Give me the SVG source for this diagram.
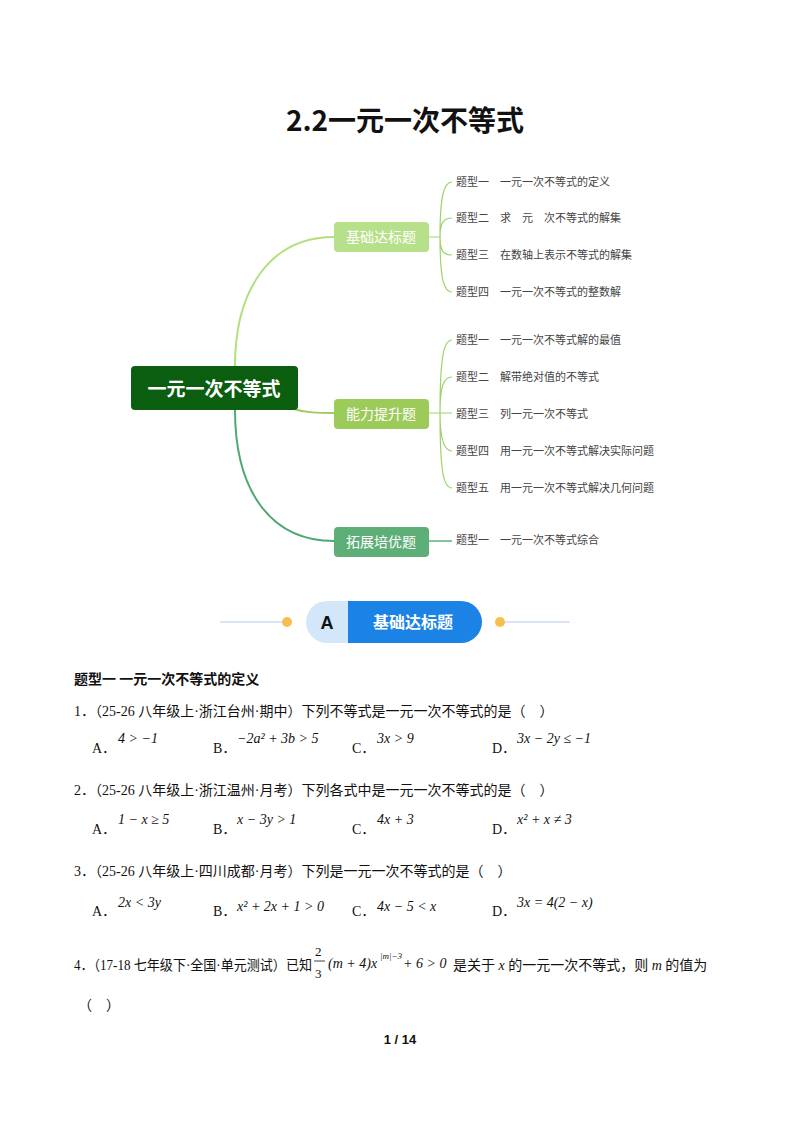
<svg xmlns="http://www.w3.org/2000/svg" width="800" height="1132" viewBox="0 0 800 1132">
<style>
.t{font-family:"Liberation Serif","Noto Sans CJK SC",serif;font-size:14px;fill:#111}
.m{font-family:"Liberation Serif",serif;font-style:italic;font-size:14px;fill:#111}
.leaf{font-family:"Noto Sans CJK SC",sans-serif;font-size:11px;fill:#444}
.br{font-family:"Noto Sans CJK SC",sans-serif;font-size:14px;fill:#fff;text-anchor:middle}
.c{fill:none;stroke-width:2}
.lc{fill:none;stroke:#9bd36a;stroke-width:1.2}
</style>
<rect width="800" height="1132" fill="#fff"/>
<text x="405" y="131" text-anchor="middle" font-family="Noto Sans CJK SC,sans-serif" font-weight="bold" font-size="28" fill="#111">2.2一元一次不等式</text>
<g id="connectors">
<path class="c" stroke="#b3e07e" d="M235,366 C235,290 270,237 334,237"/>
<path class="c" stroke="#9ccc5c" d="M290,408 C305,413 320,413 334,413"/>
<path class="c" stroke="#4fa873" d="M235,410 C235,490 270,541 334,541"/>
<path class="lc" d="M429,237 H440 M440,237 C440,195 444,182 452,182 M440,237 C440,222 444,218 452,218 M440,237 C440,252 444,255 452,255 M440,237 C440,280 444,292 452,292"/>
<path class="lc" d="M429,413 H452 M440,413 C440,355 444,340 452,340 M440,413 C440,385 444,377 452,377 M440,413 C440,440 444,451 452,451 M440,413 C440,475 444,488 452,488"/>
<path stroke="#5fb07a" stroke-width="1.5" d="M429,541 H452"/>
</g>
<g id="root"><rect x="131" y="366" width="167" height="44" rx="4" fill="#0b5d0f"/><text x="214" y="396" text-anchor="middle" font-family="Noto Sans CJK SC,sans-serif" font-weight="bold" font-size="19" fill="#fff">一元一次不等式</text></g>
<g id="b1"><rect x="334" y="222" width="95" height="30" rx="4" fill="#b6e08a"/><text class="br" x="381" y="242">基础达标题</text></g>
<g id="b2"><rect x="334" y="399" width="95" height="30" rx="4" fill="#9ccb5a"/><text class="br" x="381" y="419">能力提升题</text></g>
<g id="b3"><rect x="334" y="527" width="95" height="30" rx="4" fill="#5eae78"/><text class="br" x="381" y="547">拓展培优题</text></g>
<g id="leaves">
<text class="leaf" x="456" y="186">题型一　一元一次不等式的定义</text>
<text class="leaf" x="456" y="222">题型二　求　元　次不等式的解集</text>
<text class="leaf" x="456" y="259">题型三　在数轴上表示不等式的解集</text>
<text class="leaf" x="456" y="296">题型四　一元一次不等式的整数解</text>
<text class="leaf" x="456" y="344">题型一　一元一次不等式解的最值</text>
<text class="leaf" x="456" y="381">题型二　解带绝对值的不等式</text>
<text class="leaf" x="456" y="418">题型三　列一元一次不等式</text>
<text class="leaf" x="456" y="455">题型四　用一元一次不等式解决实际问题</text>
<text class="leaf" x="456" y="492">题型五　用一元一次不等式解决几何问题</text>
<text class="leaf" x="456" y="544">题型一　一元一次不等式综合</text>
</g>
<g id="banner">
<line x1="220" y1="622" x2="287" y2="622" stroke="#b9c9f0" stroke-width="1.2"/>
<line x1="500" y1="622" x2="570" y2="622" stroke="#b9c9f0" stroke-width="1.2"/>
<circle cx="287" cy="622" r="5" fill="#f6c04e"/><circle cx="500" cy="622" r="5" fill="#f6c04e"/>
<path d="M327,601 H348 V643 H327 A21,21 0 0 1 327,601 Z" fill="#d3e6fa"/>
<path d="M348,601 H461 A21,21 0 0 1 461,643 H348 Z" fill="#1b82e6"/>
<text x="327" y="629" text-anchor="middle" font-family="Liberation Sans,sans-serif" font-weight="bold" font-size="18" fill="#111">A</text>
<text x="413" y="628" text-anchor="middle" font-family="Noto Sans CJK SC,sans-serif" font-weight="bold" font-size="16" fill="#fff">基础达标题</text>
</g>
<text x="74" y="684" font-family="Noto Sans CJK SC,sans-serif" font-weight="bold" font-size="14" fill="#111">题型一  一元一次不等式的定义</text>
<text class="t" x="74" y="716">1．（25-26 八年级上·浙江台州·期中）下列不等式是一元一次不等式的是（　）</text>
<text class="t" x="92" y="753">A．</text><text class="m" x="118" y="743">4 &gt; −1</text>
<text class="t" x="213" y="753">B．</text><text class="m" x="237" y="743">−2a² + 3b &gt; 5</text>
<text class="t" x="352" y="753">C．</text><text class="m" x="377" y="743">3x &gt; 9</text>
<text class="t" x="492" y="753">D．</text><text class="m" x="517" y="743">3x − 2y ≤ −1</text>
<text class="t" x="74" y="795">2．（25-26 八年级上·浙江温州·月考）下列各式中是一元一次不等式的是（　）</text>
<text class="t" x="92" y="834">A．</text><text class="m" x="118" y="824">1 − x ≥ 5</text>
<text class="t" x="213" y="834">B．</text><text class="m" x="237" y="824">x − 3y &gt; 1</text>
<text class="t" x="352" y="834">C．</text><text class="m" x="377" y="824">4x + 3</text>
<text class="t" x="492" y="834">D．</text><text class="m" x="517" y="824">x² + x ≠ 3</text>
<text class="t" x="74" y="876">3．（25-26 八年级上·四川成都·月考）下列是一元一次不等式的是（　）</text>
<text class="t" x="92" y="916">A．</text><text class="m" x="118" y="907">2x &lt; 3y</text>
<text class="t" x="213" y="916">B．</text><text class="m" x="237" y="911">x² + 2x + 1 &gt; 0</text>
<text class="t" x="352" y="916">C．</text><text class="m" x="377" y="911">4x − 5 &lt; x</text>
<text class="t" x="492" y="916">D．</text><text class="m" x="517" y="907">3x = 4(2 − x)</text>
<text class="t" x="74" y="970" textLength="238" lengthAdjust="spacingAndGlyphs">4．（17-18 七年级下·全国·单元测试）已知</text>
<text class="m" x="315" y="956" style="font-style:normal;font-size:13px">2</text><line x1="314" y1="961" x2="325" y2="961" stroke="#111" stroke-width="0.8"/><text class="m" x="315" y="978" style="font-style:normal;font-size:13px">3</text>
<text class="m" x="328" y="968">(m + 4)x</text><text class="m" x="380" y="959" style="font-size:9px">|m|−3</text><text class="m" x="403" y="968">+ 6 &gt; 0</text>
<text class="t" x="453" y="970">是关于 <tspan font-style="italic">x</tspan> 的一元一次不等式，则 <tspan font-style="italic">m</tspan> 的值为</text>
<text class="t" x="78" y="1010">（　）</text>
<text x="400" y="1044" text-anchor="middle" font-family="Liberation Sans,sans-serif" font-weight="bold" font-size="13" fill="#111">1 / 14</text>
</svg>
